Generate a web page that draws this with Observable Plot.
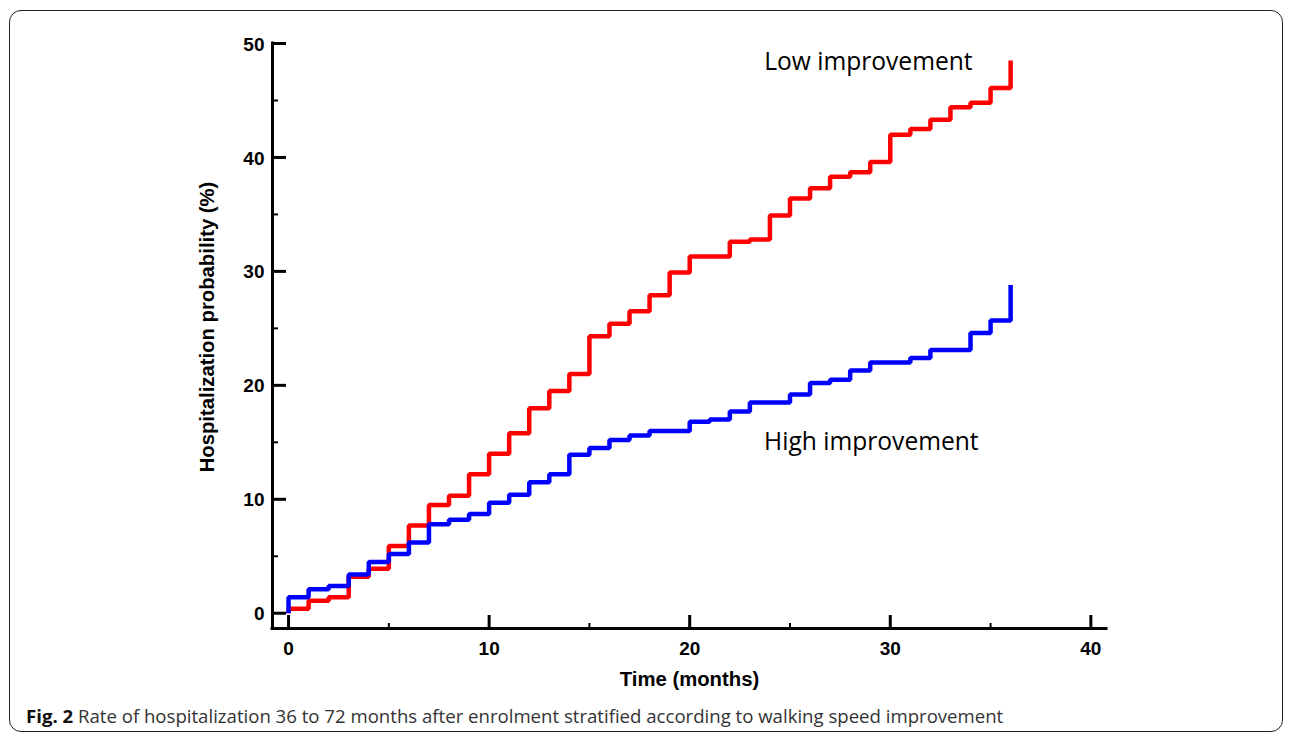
<!DOCTYPE html>
<html>
<head>
<meta charset="utf-8">
<script src="https://cdn.jsdelivr.net/npm/d3@7"></script>
<script src="https://cdn.jsdelivr.net/npm/@observablehq/plot@0.6"></script>
<style>
  html, body { margin: 0; padding: 0; background: #fff; }
  body { width: 1293px; height: 735px; position: relative; overflow: hidden; }
  #chart { position: absolute; left: 0; top: 0; }
  #frame { position: absolute; left: 9px; top: 10px; width: 1274px; height: 722px;
           border: 1.5px solid #222; border-radius: 12px; box-sizing: border-box; pointer-events: none; }
  #caption { position: absolute; left: 26px; top: 703px; font-family: "Open Sans", sans-serif;
             font-size: 18.6px; color: #333; white-space: nowrap; }
  #caption b { color: #111; }
</style>
</head>
<body>
<div id="chart"></div>
<div id="caption"><b>Fig. 2</b> Rate of hospitalization 36 to 72 months after enrolment stratified according to walking speed improvement</div>
<div id="frame"></div>
<script>
// ---- data ----
const months = [0,1,2,3,4,5,6,7,8,9,10,11,12,13,14,15,16,17,18,19,20,21,22,23,24,25,26,27,28,29,30,31,32,33,34,35,36];
const lowImprovement = [0.4,1.1,1.4,3.2,3.9,5.9,7.7,9.5,10.3,12.2,14.0,15.8,18.0,19.5,21.0,24.3,25.4,26.5,27.9,29.9,31.3,31.3,32.6,32.8,34.9,36.4,37.3,38.3,38.7,39.6,42.0,42.5,43.3,44.4,44.8,46.1,48.5];
const highImprovement = [1.4,2.1,2.4,3.4,4.5,5.2,6.2,7.8,8.2,8.7,9.7,10.4,11.5,12.2,13.9,14.5,15.2,15.6,16.0,16.0,16.8,17.0,17.7,18.5,18.5,19.2,20.2,20.5,21.3,22.0,22.0,22.4,23.1,23.1,24.6,25.7,28.8];
const seriesNames = ["Low improvement", "High improvement"];
const seriesColors = ["#ff0000", "#0000ff"];
const xTicks = [0,10,20,30,40];
const xMinorTicks = [5,15,25,35];
const yTicks = [0,10,20,30,40,50];
const yMinorTicks = [5,15,25,35,45];
const xDomain = [-0.8, 40.78];
const yDomain = [-1.34, 50];
const xLabel = "Time (months)";
const yLabel = "Hospitalization probability (%)";

// ---- layout ----
const W = 1293, H = 690, mL = 272, mR = 187, mT = 43, mB = 62;
const frameW = W - mL - mR, frameH = H - mT - mB;

// ---- build table ----
function seriesRows(name, values) {
  return [{month: 0, value: 0, series: name}].concat(
    months.map((m, i) => ({month: m, value: values[i], series: name})));
}
const rows = seriesRows(seriesNames[0], lowImprovement).concat(seriesRows(seriesNames[1], highImprovement));
const lowEnd = [{month: months[months.length-1], value: lowImprovement[lowImprovement.length-1], series: seriesNames[0]}];
const highEnd = [{month: months[months.length-1], value: highImprovement[highImprovement.length-1], series: seriesNames[1]}];

const tickFont = {fontSize: 19, fontWeight: "bold", fill: "#000"};

const chart = Plot.plot({
  width: W,
  height: H,
  marginLeft: mL,
  marginRight: mR,
  marginTop: mT,
  marginBottom: mB,
  style: {background: "transparent", fontFamily: "'Liberation Sans', Arial, sans-serif", overflow: "visible"},
  x: {domain: xDomain, axis: null},
  y: {domain: yDomain, axis: null},
  color: {domain: seriesNames, range: seriesColors},
  marks: [
    // axis lines
    Plot.ruleX([xDomain[0]], {stroke: "#000", strokeWidth: 3, strokeLinecap: "square"}),
    Plot.ruleY([yDomain[0]], {stroke: "#000", strokeWidth: 3, strokeLinecap: "square"}),
    // inward ticks
    Plot.tickY(yTicks, {y: d => d, insetRight: frameW - 14, stroke: "#000", strokeWidth: 3}),
    Plot.tickY(yMinorTicks, {y: d => d, insetRight: frameW - 6, stroke: "#000", strokeWidth: 2}),
    Plot.tickX(xTicks, {x: d => d, insetTop: frameH - 13, stroke: "#000", strokeWidth: 3}),
    Plot.tickX(xMinorTicks, {x: d => d, insetTop: frameH - 5, stroke: "#000", strokeWidth: 2}),
    // tick labels
    Plot.text(yTicks, {x: xDomain[0], y: d => d, text: d => String(d), textAnchor: "end", dx: -8, dy: 1, ...tickFont}),
    Plot.text(xTicks, {x: d => d, y: yDomain[0], text: d => String(d), textAnchor: "middle", dy: 20, ...tickFont}),
    // axis titles
    Plot.text([yLabel], {frameAnchor: "left", text: d => d, rotate: -90, dx: -65, dy: -9,
      fontSize: 20.3, fontWeight: "bold", fill: "#000", textAnchor: "middle"}),
    Plot.text([xLabel], {frameAnchor: "bottom", text: d => d, dy: 57,
      fontSize: 20.3, fontWeight: "bold", fill: "#000", textAnchor: "middle"}),
    // curves
    Plot.line(rows, {x: "month", y: "value", z: "series", stroke: "series", curve: "step-after",
      strokeWidth: 4.5, strokeLinejoin: "miter", strokeLinecap: "butt"}),
    // series labels
    Plot.text(lowEnd, {x: "month", y: "value", text: "series", textAnchor: "end", dx: -38, dy: 2,
      fontFamily: "'Open Sans', sans-serif", fontSize: 24.6, fill: "#000"}),
    Plot.text(highEnd, {x: "month", y: "value", text: "series", textAnchor: "end", dx: -32, dy: 157,
      fontFamily: "'Open Sans', sans-serif", fontSize: 24.6, fill: "#000"})
  ]
});
document.getElementById("chart").appendChild(chart);
</script>
</body>
</html>
